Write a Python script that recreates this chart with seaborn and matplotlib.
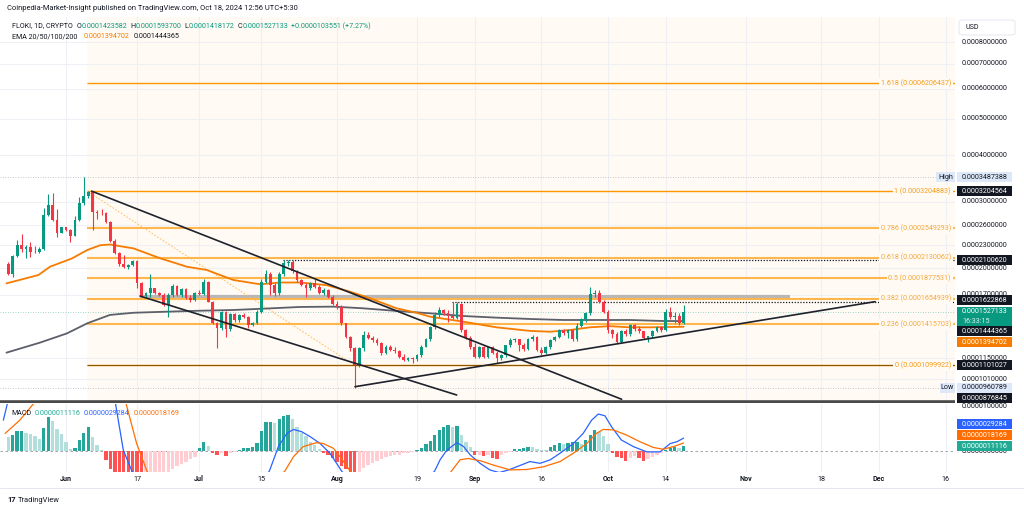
import numpy as np
import pandas as pd
import matplotlib
matplotlib.use("Agg")
import matplotlib.pyplot as plt
import matplotlib.transforms as mtrans
from matplotlib.patches import Rectangle, FancyBboxPatch
import seaborn as sns

# ---------------- data (prices in 1e-4 USD, MACD in 1e-6) ----------------
first_day = "2024-05-19"
open_e4 = [2.050, 1.928, 2.152, 2.303, 2.243, 2.279, 2.211, 2.200, 2.250, 2.769, 2.945, 2.685, 2.484,
           2.566, 2.525, 2.434, 2.685, 2.975, 3.110, 3.190, 2.826, 2.811, 2.797, 2.658, 2.365, 2.198,
           2.050, 2.008, 2.033, 2.088, 1.828, 1.685, 1.719, 1.766, 1.712, 1.695, 1.594, 1.695, 1.791,
           1.691, 1.755, 1.661, 1.645, 1.719, 1.705, 1.839, 1.627, 1.425, 1.382, 1.524, 1.373, 1.509,
           1.450, 1.500, 1.480, 1.411, 1.431, 1.530, 1.839, 1.930, 1.800, 1.720, 1.930, 2.060, 2.080,
           1.960, 1.858, 1.803, 1.766, 1.821, 1.784, 1.719, 1.745, 1.678, 1.604, 1.578, 1.424, 1.313,
           1.222, 1.103, 1.222, 1.326, 1.300, 1.286, 1.260, 1.185, 1.235, 1.210, 1.200, 1.160, 1.140,
           1.150, 1.145, 1.170, 1.235, 1.290, 1.390, 1.500, 1.545, 1.515, 1.490, 1.470, 1.600, 1.367,
           1.300, 1.234, 1.161, 1.234, 1.161, 1.230, 1.190, 1.150, 1.175, 1.245, 1.286, 1.290, 1.250,
           1.220, 1.290, 1.313, 1.210, 1.185, 1.234, 1.286, 1.313, 1.367, 1.345, 1.370, 1.290, 1.400,
           1.460, 1.515, 1.705, 1.720, 1.627, 1.530, 1.367, 1.335, 1.273, 1.360, 1.335, 1.410, 1.375,
           1.355, 1.300, 1.315, 1.360, 1.390, 1.365, 1.530, 1.484, 1.490, 1.423582]
high_e4 = [2.080, 2.166, 2.375, 2.464, 2.303, 2.350, 2.290, 2.270, 2.895, 3.143, 3.163, 2.866, 2.577,
           2.580, 2.535, 2.750, 3.098, 3.487388, 3.2049, 3.205, 2.855, 2.866, 2.826, 2.668, 2.385, 2.210,
           2.166, 2.050, 2.101, 2.101, 1.835, 1.729, 1.924, 1.773, 1.725, 1.712, 1.712, 1.814, 1.800,
           1.770, 1.765, 1.700, 1.730, 1.748, 1.866, 1.850, 1.635, 1.440, 1.540, 1.535, 1.520, 1.520,
           1.510, 1.515, 1.490, 1.440, 1.545, 1.866, 1.970, 1.950, 1.820, 1.950, 2.100, 2.1006, 2.1006,
           1.980, 1.870, 1.820, 1.830, 1.866, 1.800, 1.770, 1.755, 1.700, 1.630, 1.590, 1.430, 1.320,
           1.230, 1.235, 1.360, 1.350, 1.320, 1.300, 1.270, 1.250, 1.250, 1.230, 1.210, 1.180, 1.160,
           1.160, 1.180, 1.245, 1.300, 1.400, 1.530, 1.570, 1.560, 1.550, 1.6229, 1.6229, 1.610, 1.380,
           1.320, 1.260, 1.240, 1.240, 1.240, 1.240, 1.200, 1.180, 1.250, 1.300, 1.300, 1.290, 1.260,
           1.300, 1.330, 1.320, 1.230, 1.240, 1.290, 1.320, 1.380, 1.380, 1.380, 1.375, 1.430, 1.470,
           1.530, 1.777, 1.750, 1.750, 1.640, 1.550, 1.380, 1.350, 1.370, 1.380, 1.420, 1.420, 1.400,
           1.360, 1.320, 1.370, 1.400, 1.400, 1.560, 1.570, 1.530, 1.520, 1.593700]
low_e4 = [1.916, 1.897, 2.144, 2.211, 2.131, 2.136, 2.190, 2.190, 2.240, 2.752, 2.675, 2.424, 2.474,
          2.515, 2.350, 2.430, 2.670, 2.950, 3.070, 2.525, 2.696, 2.769, 2.641, 2.350, 2.179, 2.024,
          1.996, 1.992, 2.024, 1.766, 1.671, 1.671, 1.678, 1.705, 1.680, 1.585, 1.484, 1.678, 1.680,
          1.678, 1.650, 1.627, 1.630, 1.690, 1.700, 1.620, 1.420, 1.223, 1.370, 1.313, 1.360, 1.440,
          1.440, 1.470, 1.382, 1.400, 1.420, 1.520, 1.820, 1.695, 1.680, 1.700, 1.900, 2.020, 1.940,
          1.840, 1.790, 1.671, 1.750, 1.770, 1.710, 1.700, 1.665, 1.590, 1.560, 1.410, 1.300, 1.200,
          0.960789, 1.090, 1.200, 1.290, 1.270, 1.250, 1.170, 1.180, 1.200, 1.190, 1.150, 1.130, 1.130,
          1.120, 1.130, 1.160, 1.230, 1.280, 1.380, 1.480, 1.500, 1.440, 1.460, 1.460, 1.350, 1.290,
          1.220, 1.150, 1.150, 1.150, 1.155, 1.180, 1.114, 1.140, 1.160, 1.230, 1.270, 1.200, 1.200,
          1.210, 1.280, 1.200, 1.175, 1.180, 1.220, 1.280, 1.300, 1.330, 1.300, 1.280, 1.280, 1.390,
          1.440, 1.500, 1.670, 1.610, 1.520, 1.340, 1.300, 1.260, 1.265, 1.320, 1.320, 1.360, 1.340,
          1.290, 1.270, 1.300, 1.350, 1.350, 1.360, 1.460, 1.430, 1.410, 1.418172]
close_e4 = [1.928, 2.152, 2.303, 2.243, 2.279, 2.211, 2.200, 2.250, 2.769, 2.945, 2.685, 2.484, 2.566,
            2.525, 2.434, 2.685, 2.975, 3.110, 3.190, 2.826, 2.811, 2.797, 2.658, 2.365, 2.198, 2.050,
            2.008, 2.033, 2.088, 1.828, 1.685, 1.719, 1.766, 1.712, 1.695, 1.594, 1.695, 1.791, 1.691,
            1.755, 1.661, 1.645, 1.719, 1.705, 1.839, 1.627, 1.425, 1.382, 1.524, 1.373, 1.509, 1.450,
            1.500, 1.480, 1.411, 1.431, 1.530, 1.839, 1.930, 1.800, 1.720, 1.930, 2.060, 2.080, 1.960,
            1.858, 1.803, 1.766, 1.821, 1.784, 1.719, 1.745, 1.678, 1.604, 1.578, 1.424, 1.313, 1.222,
            1.103, 1.222, 1.326, 1.300, 1.286, 1.260, 1.185, 1.235, 1.210, 1.200, 1.160, 1.140, 1.150,
            1.145, 1.170, 1.235, 1.290, 1.390, 1.500, 1.545, 1.515, 1.490, 1.470, 1.600, 1.367, 1.300,
            1.234, 1.161, 1.234, 1.161, 1.230, 1.190, 1.150, 1.175, 1.245, 1.286, 1.290, 1.250, 1.220,
            1.290, 1.313, 1.210, 1.185, 1.234, 1.286, 1.313, 1.367, 1.345, 1.370, 1.290, 1.400, 1.460,
            1.515, 1.705, 1.720, 1.627, 1.530, 1.367, 1.335, 1.273, 1.360, 1.335, 1.410, 1.375, 1.355,
            1.300, 1.315, 1.360, 1.390, 1.365, 1.530, 1.484, 1.490, 1.4236, 1.527133]
hist_e6 = [3.1, 3.6, 4.5, 4.5, 4.2, 3.8, 3.3, 2.7, 5.3, 7.8, 6.9, 4.9, 3.8, 2.0, 0.4, 0.6, 2.5, 4.2,
           5.5, 3.1, 1.4, 0.2, -2.0, -4.0, -5.5, -6.8, -7.8, -8.5, -9.0, -9.3, -9.5, -9.0, -8.2, -7.3,
           -6.4, -5.6, -4.8, -4.0, -3.4, -3.0, -2.5, -1.9, -1.3, 0.6, 2.0, 1.1, -0.5, -0.9, -0.5, -1.1,
           -0.5, -0.3, 0.2, 0.6, 0.6, 0.8, 1.9, 4.5, 6.5, 6.7, 6.4, 7.3, 8.0, 8.2, 7.2, 5.5, 4.0, 3.3,
           2.1, 1.4, 0.4, -0.4, -0.9, -1.7, -2.4, -3.5, -4.2, -5.0, -5.6, -5.2, -3.9, -3.2, -2.7, -2.2,
           -1.9, -1.4, -1.1, -0.9, -0.8, -0.5, -0.4, -0.2, 0.2, 0.6, 1.5, 2.3, 3.6, 4.8, 5.5, 5.8, 5.4,
           5.6, 3.6, 2.1, 1.0, -0.9, -0.8, -1.1, -0.9, -1.7, -1.8, -0.9, -0.5, -0.2, 0.5, 0.5, 0.6, 1.0,
           0.8, 0.4, 0.2, 0.15, 0.8, 1.4, 1.9, 1.7, 1.9, 2.0, 2.1, 1.7, 2.5, 3.6, 4.8, 4.4, 3.3, 1.7,
           -0.4, -1.3, -1.7, -2.2, -1.7, -1.1, -1.7, -2.2, -1.9, -1.4, -0.9, -0.5, 0.2, 0.6, 0.8, 0.6,
           1.1116]

# EMA lines read at sample days (days counted from 2024-06-01)
ema50_day = [-13.4, -6.2, -3.6, 1.3, 4.8, 7.7, 9.9, 15.2, 21.2, 27.2, 31.7, 37.7, 43.7, 48.2, 52.7,
             58.7, 63.9, 68.4, 74.4, 78.9, 81.9, 89.4, 96.9, 104.4, 108.9, 113.4, 117.9, 122.4,
             126.9, 131.4, 139]
ema50_e4 = [1.82, 1.916, 2.016, 2.12, 2.234, 2.30, 2.31, 2.256, 2.123, 2.016, 1.976, 1.858, 1.81,
            1.83, 1.83, 1.80, 1.73, 1.661, 1.562, 1.52, 1.484, 1.439, 1.39, 1.36, 1.353, 1.367, 1.39,
            1.40, 1.39, 1.39, 1.394702]
ema200_day = [-13.4, -5.9, 0.2, 4.8, 9.9, 15.2, 22.7, 30.2, 37.7, 45.2, 52.7, 60.2, 66.9, 74.4, 81.9,
              89.4, 96.9, 104.4, 111.9, 119.4, 126.9, 134.4, 139]
ema200_e4 = [1.19, 1.265, 1.339, 1.425, 1.50, 1.52, 1.53, 1.539, 1.546, 1.56, 1.575, 1.578, 1.562,
             1.537, 1.515, 1.49, 1.475, 1.463, 1.454, 1.454, 1.454, 1.445, 1.444365]
macd_day = [-14.1, -13, -11, 9, 11, 12.9, 14.8, 16.5, 44, 45.8, 47.8, 49.7, 51.2, 53, 54.9, 57.2, 59.4,
            60.9, 62, 64, 81, 83, 84.2, 85.7, 88, 89.5, 91, 93.2, 95.4, 97.5, 99.6, 101.4, 104.4, 106.7,
            109, 111.2, 114.2, 116.4, 118.3, 119.8, 121.3, 122.8, 125, 127.7, 130.7, 133.7, 136, 137.5,
            139]
macd_e6 = [7.0, 11.6, 15, 15, 11.6, 0.2, -4.5, -7, -7, -4.5, 1.0, 4.0, 4.9, 4.4, 3.3, 1.7, -0.5, -2.8,
           -4.5, -7, -7, -4.5, -2.0, 0.2, 1.9, 1.0, -0.9, -2.8, -4.3, -4.9, -4.3, -3.6, -2.4, -2.8, -2.0,
           -0.5, 1.7, 4.0, 7.0, 8.4, 8.0, 5.5, 2.5, 1.0, -0.2, -0.2, 1.7, 2.1, 2.9284]
signal_day = [-13.7, -10.4, -6.6, -4, 11, 13.3, 15.9, 18.2, 20, 47, 49.3, 51.2, 53.4, 56.4, 57.9, 60.2,
              62, 63.9, 66, 85, 86.8, 88.7, 90.5, 93.2, 96.2, 100, 103.7, 107.4, 111.2, 114.2, 117.2,
              119.4, 120.9, 123.2, 126.2, 129.2, 132.2, 134.4, 136.7, 139]
signal_e6 = [4.0, 7.0, 11.6, 14, 14, 11.6, 1.7, -4.5, -7, -7, -4.5, -1.3, 1.0, 1.9, 1.7, 0.6, -1.7,
             -4.5, -7, -7, -4.5, -2.0, -1.7, -2.2, -3.2, -4.3, -4.2, -3.6, -2.4, -0.5, 1.7, 4.0, 4.9,
             4.8, 3.6, 2.1, 0.8, 0.4, 1.0, 1.8169]

fib_ratios = ["1.618", "1", "0.786", "0.618", "0.5", "0.382", "0.236", "0"]
fib_prices = [0.0006206437, 0.0003204883, 0.0002549293, 0.0002130062, 0.0001877531,
              0.0001654939, 0.0001415703, 0.0001099922]
fib_start_day = 4.8

# drawn trend lines: (day0, day1), (price0_e4, price1_e4)
trend_upper = ([5.78, 125.06], [3.205, 0.894])
trend_lower = ([16.66, 87.94], [1.684, 0.9177])
trend_support = ([65.05, 182.1], [0.9656, 1.627])
fib_diag = ([4.8, 65.0], [3.2049, 1.0999])

price_ticks = [0.0008, 0.0007, 0.0006, 0.0005, 0.0004, 0.0003, 0.00026, 0.00023, 0.0002, 0.00017,
               0.000115, 0.000101]
date_ticks = ["2024-06-01", "2024-06-17", "2024-07-01", "2024-07-15", "2024-08-01", "2024-08-19",
              "2024-09-01", "2024-09-16", "2024-10-01", "2024-10-14", "2024-11-01", "2024-11-18",
              "2024-12-01", "2024-12-16"]
date_labels = ["Jun", "17", "Jul", "15", "Aug", "19", "Sep", "16", "Oct", "14", "Nov", "18", "Dec", "16"]

# ---------------- style ----------------
sns.set_theme(style="white")
plt.rcParams['font.family'] = ['Roboto', 'DejaVu Sans']
FS = 5.1
DARK = '#131722'
GREEN = '#089981'
RED = '#f23645'
ORANGE = '#ff9800'
LORANGE = '#ffb74d'
CREAM = '#fffaf3'

W, H = 1024, 511
fig = plt.figure(figsize=(W / 100, H / 100), dpi=100)
fig.patch.set_facecolor('white')

ref = pd.Timestamp("2024-06-01")
dates = pd.date_range(first_day, periods=len(close_e4), freq="D")
day = np.asarray((dates - ref).days, dtype=float)
o = np.array(open_e4) * 1e-4
h = np.array(high_e4) * 1e-4
l = np.array(low_e4) * 1e-4
c = np.array(close_e4) * 1e-4
tick_days = [(pd.Timestamp(t) - ref).days for t in date_ticks]

X0, X1 = -14.855, 200.09
ax = fig.add_axes([0, 1 - 403 / H, 955 / W, (403 - 17) / H])
axm = fig.add_axes([0, 1 - 472 / H, 955 / W, (472 - 404) / H])
for a in (ax, axm):
    a.set_axis_off()

# background of fib area
ax.axvspan(fib_start_day, X1, color=CREAM, zorder=0, lw=0)
for t in tick_days:
    ax.axvline(t, color='#eef0f5', lw=0.8, zorder=0.5)
    axm.axvline(t, color='#eef0f5', lw=0.8, zorder=0.5)
for p in price_ticks:
    ax.axhline(p, color='#eef0f5', lw=0.8, zorder=0.5)

# fib levels
for r, p in zip(fib_ratios, fib_prices):
    strong = r in ("1.618", "1", "0")
    col = ORANGE if strong else LORANGE
    ax.hlines(p, fib_start_day, X1, color=col, lw=1.0 if strong else 1.5, zorder=1.5)
ax.hlines(0.0001101027, fib_start_day, X1, color='#5d3a00', lw=0.8, alpha=0.7, zorder=1.6)
ax.plot(fib_diag[0], np.array(fib_diag[1]) * 1e-4, color=LORANGE, lw=0.6, ls=(0, (2, 2)), zorder=1.5)

# other horizontal drawings
ax.hlines(0.0003487388, X0, X1, color='#b2b5be', lw=0.6, ls=(0, (1, 2)), zorder=1)
ax.hlines(0.0000960789, X0, X1, color='#b2b5be', lw=0.6, ls=(0, (1, 2)), zorder=1)
ax.hlines(0.0001527133, X0, X1, color=GREEN, lw=0.6, alpha=0.5, ls=(0, (1, 2)), zorder=1)
ax.hlines(0.0002100620, 48.9, X1, color=DARK, lw=0.9, ls=(0, (1, 1.3)), zorder=2)
ax.hlines(0.0001622868, 86.9, X1, color=DARK, lw=0.9, ls=(0, (1, 1.3)), zorder=2)
ax.hlines(0.0001679, 16.7, 163.0, color='#a8a8a8', lw=3.0, alpha=0.8, zorder=1.4)
ax.hlines(0.0000876845, X0, X1, color='#4a4a4a', lw=2.6, zorder=6)

# EMAs via seaborn
sns.lineplot(x=ema200_day, y=np.array(ema200_e4) * 1e-4, ax=ax, color='#5d606b', lw=1.3,
             legend=False, zorder=2)
sns.lineplot(x=ema50_day, y=np.array(ema50_e4) * 1e-4, ax=ax, color='#f57c00', lw=1.3,
             legend=False, zorder=2)

# trend lines
for tl in (trend_upper, trend_lower, trend_support):
    ax.plot(tl[0], np.array(tl[1]) * 1e-4, color='#1e222d', lw=1.2, zorder=4, solid_capstyle='round')

# candles
up = c >= o
cols = np.where(up, GREEN, RED)
ax.vlines(day, l, h, colors=cols, lw=0.8, zorder=3)
body_lo = np.minimum(o, c)
body_h = np.maximum(np.abs(c - o), 0.004e-4)
ax.bar(day, body_h, bottom=body_lo, width=0.62, color=cols, lw=0, zorder=3.5)

ax.set_xlim(X0, X1)
ax.set_yscale('log')
ax.set_ylim(0.87374e-4, 9.3296e-4)
ax.set_axis_off()

# MACD pane
hist = np.array(hist_e6) * 1e-6
prev = np.concatenate([[hist[0] + 1e-6], hist[:-1]])
hcols = []
for v, pv in zip(hist, prev):
    if v >= 0:
        hcols.append('#26a69a' if v >= pv else '#b2dfdb')
    else:
        hcols.append('#ff5252' if v < pv else '#ffcdd2')
axm.bar(day, hist, width=0.75, color=hcols, lw=0, zorder=2)
axm.axhline(0, color='#9598a1', lw=0.6, ls=(0, (3, 3)), zorder=1)
sns.lineplot(x=macd_day, y=np.array(macd_e6) * 1e-6, ax=axm, color='#2962ff', lw=0.9,
             legend=False, zorder=3)
sns.lineplot(x=signal_day, y=np.array(signal_e6) * 1e-6, ax=axm, color='#ff6d00', lw=0.9,
             legend=False, zorder=3)
axm.set_xlim(X0, X1)
axm.set_ylim(-4.77e-6, 10.68e-6)
axm.set_axis_off()

# ---------------- texts ----------------
def fy(py):
    return 1 - py / H

renderer = fig.canvas.get_renderer()

def seq_text(x_px, y_px, parts, size=FS):
    x = x_px
    for s, col, gap, *w in parts:
        t = fig.text(x / W, fy(y_px), s, color=col, fontsize=size, ha='left', va='center',
                     fontweight=(w[0] if w else 'normal'), zorder=10)
        x += t.get_window_extent(renderer).width + gap

fig.text(7 / W, fy(9), "Coinpedia-Market-Insight published on TradingView.com, Oct 18, 2024 12:56 UTC+5:30",
         fontsize=5.4, color=DARK, ha='left', va='center')
seq_text(12, 26, [("FLOKI, 1D, CRYPTO", DARK, 4), ("O", DARK, 0.3), ("0.0001423582", GREEN, 3),
                  ("H", DARK, 0.3), ("0.0001593700", GREEN, 3), ("L", DARK, 0.3),
                  ("0.0001418172", GREEN, 3), ("C", DARK, 0.3), ("0.0001527133", GREEN, 3),
                  ("+0.0000103551 (+7.27%)", GREEN, 0)])
seq_text(12, 37, [("EMA 20/50/100/200", DARK, 6), ("0.0001394702", '#f57c00', 5),
                  ("0.0001444365", DARK, 0)])
seq_text(11, 413, [("MACD", DARK, 3), ("0.0000011116", '#22ab94', 4), ("0.0000029284", '#2962ff', 4),
                   ("0.0000018169", '#ff6d00', 0)])

# fib labels
tr_main = mtrans.blended_transform_factory(fig.transFigure, ax.transData)
for r, p in zip(fib_ratios, fib_prices):
    strong = r in ("1.618", "1", "0")
    ax.text(951 / W, p, f"{r} ({p:.10f})", transform=tr_main, ha='right', va='center',
            fontsize=FS, color=('#f59c1a' if strong else '#f5a83a'), zorder=7,
            bbox=dict(boxstyle='square,pad=0.25', fc=CREAM, ec='none'))

def y_of(a, v):
    return a.transData.transform((0, v))[1]

# right price axis
fig.add_artist(Rectangle((955 / W, fy(487)), 69 / W, 487 / H, transform=fig.transFigure,
                         fc='white', ec='none', zorder=3))
for p in price_ticks:
    fig.text(962 / W, y_of(ax, p) / H, f"{p:.10f}", ha='left', va='center', fontsize=FS,
             color=DARK, zorder=8)

def tag(a, value, text, bg, fg='white', y_px=None, hpx=10, x0=957, x1=1012, text2=None):
    yc = y_of(a, value) if y_px is None else H - y_px
    hh = hpx if text2 is None else 21
    yb = yc - (5 if text2 is None else 16)
    fig.add_artist(Rectangle((x0 / W, yb / H), (x1 - x0) / W, hh / H, transform=fig.transFigure,
                             fc=bg, ec='none', zorder=11))
    fig.text(962 / W, yc / H, text, color=fg, fontsize=FS, ha='left', va='center', zorder=12)
    if text2:
        fig.text(962 / W, (yc - 10) / H, text2, color=fg, fontsize=FS, ha='left', va='center',
                 zorder=12, alpha=0.85)

tag(ax, 0.0003487388, "0.0003487388", '#dde8f8', fg=DARK)
fig.add_artist(Rectangle((936 / W, (y_of(ax, 0.0003487388) - 5) / H), 19 / W, 10 / H,
                         transform=fig.transFigure, fc='#dde8f8', ec='none', zorder=11))
fig.text(945.5 / W, y_of(ax, 0.0003487388) / H, "High", fontsize=FS, color=DARK, ha='center',
         va='center', zorder=12)
tag(ax, 0.0003204564, "0.0003204564", DARK)
tag(ax, 0.0002100620, "0.0002100620", DARK)
tag(ax, 0.0001622868, "0.0001622868", DARK, y_px=300)
tag(ax, 0.0001527133, "0.0001527133", GREEN, text2="16:33:15")
tag(ax, 0.0001444365, "0.0001444365", DARK, y_px=331)
tag(ax, 0.0001394702, "0.0001394702", '#f57c00', y_px=342)
tag(ax, 0.0001101027, "0.0001101027", DARK)
tag(ax, 0.0000960789, "0.0000960789", '#dde8f8', fg=DARK)
fig.add_artist(Rectangle((940 / W, (y_of(ax, 0.0000960789) - 5) / H), 15 / W, 10 / H,
                         transform=fig.transFigure, fc='#dde8f8', ec='none', zorder=11))
fig.text(947.5 / W, y_of(ax, 0.0000960789) / H, "Low", fontsize=FS, color=DARK, ha='center',
         va='center', zorder=12)
tag(ax, 0.0000876845, "0.0000876845", DARK, y_px=398)

# MACD axis labels
for v in (1e-5, 0.0):
    fig.text(962 / W, y_of(axm, v) / H, f"{v:.10f}", ha='left', va='center', fontsize=FS,
             color=DARK, zorder=8)
tag(axm, 2.9284e-6, "0.0000029284", '#2962ff', y_px=424)
tag(axm, 1.8169e-6, "0.0000018169", '#ff6d00', y_px=435)
tag(axm, 1.1116e-6, "0.0000011116", '#22ab94', y_px=446)

# USD box
fig.add_artist(FancyBboxPatch((959 / W, fy(35)), 56 / W, 15 / H, transform=fig.transFigure,
                              boxstyle='round,pad=0,rounding_size=0.004', fc='white',
                              ec='#e0e3eb', lw=0.6, zorder=11))
fig.text(965 / W, fy(27.5), "USD", fontsize=FS, color=DARK, ha='left', va='center', zorder=12)

# time axis
tr_t = mtrans.blended_transform_factory(axm.transData, fig.transFigure)
for t, lab in zip(tick_days, date_labels):
    axm.text(t, fy(479), lab, transform=tr_t, ha='center', va='center', fontsize=FS, color=DARK,
             fontweight=('bold' if lab.isalpha() else 'normal'), clip_on=False)
fig.add_artist(plt.Line2D([0, 1], [fy(488), fy(488)], transform=fig.transFigure, color='#e0e3eb',
                          lw=0.6))

# logo
seq_text(7, 500, [("17", DARK, 2, 'bold'), ("TradingView", DARK, 0)], size=5.4)

fig.savefig("out.png", dpi=100)
